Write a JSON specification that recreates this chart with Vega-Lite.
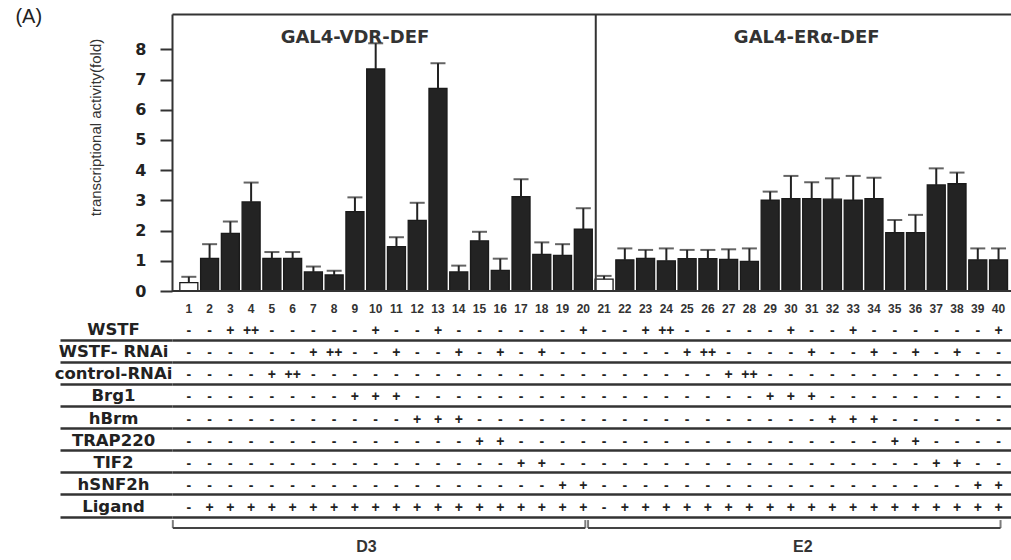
{
  "$schema": "https://vega.github.io/schema/vega-lite/v6.json",
  "autosize": {"type": "none"},
  "padding": {"left": 172, "top": 14, "right": 0, "bottom": 0},
  "width": 844,
  "height": 546,
  "background": "white",
  "config": {"view": {"stroke": null}},
  "data": {"values": [
    {"lane": 1, "value": 0.28, "err": 0.47, "WSTF": "-", "WSTF- RNAi": "-", "control-RNAi": "-", "Brg1": "-", "hBrm": "-", "TRAP220": "-", "TIF2": "-", "hSNF2h": "-", "Ligand": "-"},
    {"lane": 2, "value": 1.08, "err": 1.55, "WSTF": "-", "WSTF- RNAi": "-", "control-RNAi": "-", "Brg1": "-", "hBrm": "-", "TRAP220": "-", "TIF2": "-", "hSNF2h": "-", "Ligand": "+"},
    {"lane": 3, "value": 1.91, "err": 2.30, "WSTF": "+", "WSTF- RNAi": "-", "control-RNAi": "-", "Brg1": "-", "hBrm": "-", "TRAP220": "-", "TIF2": "-", "hSNF2h": "-", "Ligand": "+"},
    {"lane": 4, "value": 2.95, "err": 3.59, "WSTF": "++", "WSTF- RNAi": "-", "control-RNAi": "-", "Brg1": "-", "hBrm": "-", "TRAP220": "-", "TIF2": "-", "hSNF2h": "-", "Ligand": "+"},
    {"lane": 5, "value": 1.08, "err": 1.29, "WSTF": "-", "WSTF- RNAi": "-", "control-RNAi": "+", "Brg1": "-", "hBrm": "-", "TRAP220": "-", "TIF2": "-", "hSNF2h": "-", "Ligand": "+"},
    {"lane": 6, "value": 1.08, "err": 1.29, "WSTF": "-", "WSTF- RNAi": "-", "control-RNAi": "++", "Brg1": "-", "hBrm": "-", "TRAP220": "-", "TIF2": "-", "hSNF2h": "-", "Ligand": "+"},
    {"lane": 7, "value": 0.63, "err": 0.81, "WSTF": "-", "WSTF- RNAi": "+", "control-RNAi": "-", "Brg1": "-", "hBrm": "-", "TRAP220": "-", "TIF2": "-", "hSNF2h": "-", "Ligand": "+"},
    {"lane": 8, "value": 0.53, "err": 0.67, "WSTF": "-", "WSTF- RNAi": "++", "control-RNAi": "-", "Brg1": "-", "hBrm": "-", "TRAP220": "-", "TIF2": "-", "hSNF2h": "-", "Ligand": "+"},
    {"lane": 9, "value": 2.63, "err": 3.10, "WSTF": "-", "WSTF- RNAi": "-", "control-RNAi": "-", "Brg1": "+", "hBrm": "-", "TRAP220": "-", "TIF2": "-", "hSNF2h": "-", "Ligand": "+"},
    {"lane": 10, "value": 7.35, "err": 8.20, "WSTF": "+", "WSTF- RNAi": "-", "control-RNAi": "-", "Brg1": "+", "hBrm": "-", "TRAP220": "-", "TIF2": "-", "hSNF2h": "-", "Ligand": "+"},
    {"lane": 11, "value": 1.47, "err": 1.78, "WSTF": "-", "WSTF- RNAi": "+", "control-RNAi": "-", "Brg1": "+", "hBrm": "-", "TRAP220": "-", "TIF2": "-", "hSNF2h": "-", "Ligand": "+"},
    {"lane": 12, "value": 2.34, "err": 2.92, "WSTF": "-", "WSTF- RNAi": "-", "control-RNAi": "-", "Brg1": "-", "hBrm": "+", "TRAP220": "-", "TIF2": "-", "hSNF2h": "-", "Ligand": "+"},
    {"lane": 13, "value": 6.71, "err": 7.54, "WSTF": "+", "WSTF- RNAi": "-", "control-RNAi": "-", "Brg1": "-", "hBrm": "+", "TRAP220": "-", "TIF2": "-", "hSNF2h": "-", "Ligand": "+"},
    {"lane": 14, "value": 0.63, "err": 0.84, "WSTF": "-", "WSTF- RNAi": "+", "control-RNAi": "-", "Brg1": "-", "hBrm": "+", "TRAP220": "-", "TIF2": "-", "hSNF2h": "-", "Ligand": "+"},
    {"lane": 15, "value": 1.66, "err": 1.96, "WSTF": "-", "WSTF- RNAi": "-", "control-RNAi": "-", "Brg1": "-", "hBrm": "-", "TRAP220": "+", "TIF2": "-", "hSNF2h": "-", "Ligand": "+"},
    {"lane": 16, "value": 0.68, "err": 1.07, "WSTF": "-", "WSTF- RNAi": "+", "control-RNAi": "-", "Brg1": "-", "hBrm": "-", "TRAP220": "+", "TIF2": "-", "hSNF2h": "-", "Ligand": "+"},
    {"lane": 17, "value": 3.12, "err": 3.70, "WSTF": "-", "WSTF- RNAi": "-", "control-RNAi": "-", "Brg1": "-", "hBrm": "-", "TRAP220": "-", "TIF2": "+", "hSNF2h": "-", "Ligand": "+"},
    {"lane": 18, "value": 1.21, "err": 1.61, "WSTF": "-", "WSTF- RNAi": "+", "control-RNAi": "-", "Brg1": "-", "hBrm": "-", "TRAP220": "-", "TIF2": "+", "hSNF2h": "-", "Ligand": "+"},
    {"lane": 19, "value": 1.18, "err": 1.55, "WSTF": "-", "WSTF- RNAi": "-", "control-RNAi": "-", "Brg1": "-", "hBrm": "-", "TRAP220": "-", "TIF2": "-", "hSNF2h": "+", "Ligand": "+"},
    {"lane": 20, "value": 2.05, "err": 2.74, "WSTF": "+", "WSTF- RNAi": "-", "control-RNAi": "-", "Brg1": "-", "hBrm": "-", "TRAP220": "-", "TIF2": "-", "hSNF2h": "+", "Ligand": "+"},
    {"lane": 21, "value": 0.39, "err": 0.50, "WSTF": "-", "WSTF- RNAi": "-", "control-RNAi": "-", "Brg1": "-", "hBrm": "-", "TRAP220": "-", "TIF2": "-", "hSNF2h": "-", "Ligand": "-"},
    {"lane": 22, "value": 1.03, "err": 1.41, "WSTF": "-", "WSTF- RNAi": "-", "control-RNAi": "-", "Brg1": "-", "hBrm": "-", "TRAP220": "-", "TIF2": "-", "hSNF2h": "-", "Ligand": "+"},
    {"lane": 23, "value": 1.08, "err": 1.36, "WSTF": "+", "WSTF- RNAi": "-", "control-RNAi": "-", "Brg1": "-", "hBrm": "-", "TRAP220": "-", "TIF2": "-", "hSNF2h": "-", "Ligand": "+"},
    {"lane": 24, "value": 1.00, "err": 1.41, "WSTF": "++", "WSTF- RNAi": "-", "control-RNAi": "-", "Brg1": "-", "hBrm": "-", "TRAP220": "-", "TIF2": "-", "hSNF2h": "-", "Ligand": "+"},
    {"lane": 25, "value": 1.07, "err": 1.36, "WSTF": "-", "WSTF- RNAi": "+", "control-RNAi": "-", "Brg1": "-", "hBrm": "-", "TRAP220": "-", "TIF2": "-", "hSNF2h": "-", "Ligand": "+"},
    {"lane": 26, "value": 1.07, "err": 1.36, "WSTF": "-", "WSTF- RNAi": "++", "control-RNAi": "-", "Brg1": "-", "hBrm": "-", "TRAP220": "-", "TIF2": "-", "hSNF2h": "-", "Ligand": "+"},
    {"lane": 27, "value": 1.05, "err": 1.38, "WSTF": "-", "WSTF- RNAi": "-", "control-RNAi": "+", "Brg1": "-", "hBrm": "-", "TRAP220": "-", "TIF2": "-", "hSNF2h": "-", "Ligand": "+"},
    {"lane": 28, "value": 0.98, "err": 1.41, "WSTF": "-", "WSTF- RNAi": "-", "control-RNAi": "++", "Brg1": "-", "hBrm": "-", "TRAP220": "-", "TIF2": "-", "hSNF2h": "-", "Ligand": "+"},
    {"lane": 29, "value": 3.01, "err": 3.29, "WSTF": "-", "WSTF- RNAi": "-", "control-RNAi": "-", "Brg1": "+", "hBrm": "-", "TRAP220": "-", "TIF2": "-", "hSNF2h": "-", "Ligand": "+"},
    {"lane": 30, "value": 3.06, "err": 3.81, "WSTF": "+", "WSTF- RNAi": "-", "control-RNAi": "-", "Brg1": "+", "hBrm": "-", "TRAP220": "-", "TIF2": "-", "hSNF2h": "-", "Ligand": "+"},
    {"lane": 31, "value": 3.06, "err": 3.60, "WSTF": "-", "WSTF- RNAi": "+", "control-RNAi": "-", "Brg1": "+", "hBrm": "-", "TRAP220": "-", "TIF2": "-", "hSNF2h": "-", "Ligand": "+"},
    {"lane": 32, "value": 3.04, "err": 3.73, "WSTF": "-", "WSTF- RNAi": "-", "control-RNAi": "-", "Brg1": "-", "hBrm": "+", "TRAP220": "-", "TIF2": "-", "hSNF2h": "-", "Ligand": "+"},
    {"lane": 33, "value": 3.01, "err": 3.81, "WSTF": "+", "WSTF- RNAi": "-", "control-RNAi": "-", "Brg1": "-", "hBrm": "+", "TRAP220": "-", "TIF2": "-", "hSNF2h": "-", "Ligand": "+"},
    {"lane": 34, "value": 3.06, "err": 3.75, "WSTF": "-", "WSTF- RNAi": "+", "control-RNAi": "-", "Brg1": "-", "hBrm": "+", "TRAP220": "-", "TIF2": "-", "hSNF2h": "-", "Ligand": "+"},
    {"lane": 35, "value": 1.93, "err": 2.35, "WSTF": "-", "WSTF- RNAi": "-", "control-RNAi": "-", "Brg1": "-", "hBrm": "-", "TRAP220": "+", "TIF2": "-", "hSNF2h": "-", "Ligand": "+"},
    {"lane": 36, "value": 1.93, "err": 2.52, "WSTF": "-", "WSTF- RNAi": "+", "control-RNAi": "-", "Brg1": "-", "hBrm": "-", "TRAP220": "+", "TIF2": "-", "hSNF2h": "-", "Ligand": "+"},
    {"lane": 37, "value": 3.51, "err": 4.06, "WSTF": "-", "WSTF- RNAi": "-", "control-RNAi": "-", "Brg1": "-", "hBrm": "-", "TRAP220": "-", "TIF2": "+", "hSNF2h": "-", "Ligand": "+"},
    {"lane": 38, "value": 3.55, "err": 3.92, "WSTF": "-", "WSTF- RNAi": "+", "control-RNAi": "-", "Brg1": "-", "hBrm": "-", "TRAP220": "-", "TIF2": "+", "hSNF2h": "-", "Ligand": "+"},
    {"lane": 39, "value": 1.03, "err": 1.41, "WSTF": "-", "WSTF- RNAi": "-", "control-RNAi": "-", "Brg1": "-", "hBrm": "-", "TRAP220": "-", "TIF2": "-", "hSNF2h": "+", "Ligand": "+"},
    {"lane": 40, "value": 1.03, "err": 1.41, "WSTF": "+", "WSTF- RNAi": "-", "control-RNAi": "-", "Brg1": "-", "hBrm": "-", "TRAP220": "-", "TIF2": "-", "hSNF2h": "+", "Ligand": "+"}
  ]},
  "layer": [
    {
      "layer": [
        {
          "mark": {"type": "bar", "width": 18, "stroke": "#1a1a1a", "strokeWidth": 1.3},
          "encoding": {
            "x": {"field": "lane", "type": "quantitative", "scale": {"domain": [0.43, 40.6], "nice": false, "zero": false},
                  "axis": {"orient": "top", "labels": false, "ticks": false, "domain": true, "domainColor": "#333", "domainWidth": 2, "grid": false, "title": null}},
            "y": {"field": "value", "type": "quantitative", "scale": {"domain": [0, 9.17], "range": [277, 0], "nice": false, "zero": false},
                  "axis": {"orient": "left", "values": [0, 1, 2, 3, 4, 5, 6, 7, 8], "format": "d", "grid": false, "domain": true, "domainColor": "#333", "domainWidth": 2,
                           "ticks": true, "tickSize": 12, "tickWidth": 2, "tickColor": "#333",
                           "labelFont": "DejaVu Sans", "labelFontWeight": "bold", "labelFontSize": 16, "labelColor": "#222", "labelPadding": 14,
                           "title": "transcriptional activity(fold)", "titleFont": "Liberation Sans", "titleFontSize": 15, "titleFontWeight": "normal", "titleColor": "#333",
                           "titleX": -77, "titleY": 113, "titleAngle": -90, "titleAlign": "center", "titleBaseline": "middle"}},
            "fill": {"field": "Ligand", "type": "nominal", "scale": {"domain": ["-", "+"], "range": ["#ffffff", "#232323"]}, "legend": null}
          }
        },
        {
          "mark": {"type": "rule", "color": "#222", "strokeWidth": 2},
          "encoding": {
            "x": {"field": "lane", "type": "quantitative", "scale": {"domain": [0.43, 40.6], "nice": false, "zero": false}},
            "y": {"field": "value", "type": "quantitative", "scale": {"domain": [0, 9.17], "range": [277, 0], "nice": false, "zero": false}},
            "y2": {"field": "err"}
          }
        },
        {
          "mark": {"type": "tick", "orient": "horizontal", "size": 15, "thickness": 2, "color": "#222"},
          "encoding": {
            "x": {"field": "lane", "type": "quantitative", "scale": {"domain": [0.43, 40.6], "nice": false, "zero": false}},
            "y": {"field": "err", "type": "quantitative", "scale": {"domain": [0, 9.17], "range": [277, 0], "nice": false, "zero": false}}
          }
        },
        {
          "data": {"values": [{}]},
          "mark": {"type": "rule", "color": "#333", "strokeWidth": 2},
          "encoding": {
            "y": {"datum": 0, "type": "quantitative", "scale": {"domain": [0, 9.17], "range": [277, 0], "nice": false, "zero": false}}
          }
        },
        {
          "data": {"values": [{}]},
          "mark": {"type": "rule", "color": "#333", "strokeWidth": 2},
          "encoding": {
            "x": {"datum": 20.6, "type": "quantitative", "scale": {"domain": [0.43, 40.6], "nice": false, "zero": false}},
            "y": {"datum": 0, "type": "quantitative", "scale": {"domain": [0, 9.17], "range": [277, 0], "nice": false, "zero": false}},
            "y2": {"datum": 9.17}
          }
        },
        {
          "data": {"values": [{}]},
          "mark": {"type": "text", "text": "GAL4-VDR-DEF", "font": "DejaVu Sans", "fontWeight": "bold", "fontSize": 18, "color": "#333", "baseline": "middle", "align": "center"},
          "encoding": {
            "x": {"datum": 9.0, "type": "quantitative", "scale": {"domain": [0.43, 40.6], "nice": false, "zero": false}},
            "y": {"datum": 8.38, "type": "quantitative", "scale": {"domain": [0, 9.17], "range": [277, 0], "nice": false, "zero": false}}
          }
        },
        {
          "data": {"values": [{}]},
          "mark": {"type": "text", "text": "GAL4-ERα-DEF", "font": "DejaVu Sans", "fontWeight": "bold", "fontSize": 18, "color": "#333", "baseline": "middle", "align": "center"},
          "encoding": {
            "x": {"datum": 30.76, "type": "quantitative", "scale": {"domain": [0.43, 40.6], "nice": false, "zero": false}},
            "y": {"datum": 8.38, "type": "quantitative", "scale": {"domain": [0, 9.17], "range": [277, 0], "nice": false, "zero": false}}
          }
        },
        {
          "data": {"values": [{}]},
          "mark": {"type": "text", "text": "(A)", "font": "Liberation Sans", "fontSize": 20, "color": "#222", "baseline": "middle", "align": "center"},
          "encoding": {
            "x": {"datum": -6.71, "type": "quantitative", "scale": {"domain": [0.43, 40.6], "nice": false, "zero": false}},
            "y": {"datum": 9.07, "type": "quantitative", "scale": {"domain": [0, 9.17], "range": [277, 0], "nice": false, "zero": false}}
          }
        }
      ]
    },
    {
      "layer": [
        {
          "transform": [{"fold": ["WSTF", "WSTF- RNAi", "control-RNAi", "Brg1", "hBrm", "TRAP220", "TIF2", "hSNF2h", "Ligand"], "as": ["factor", "sign"]}],
          "mark": {"type": "text", "font": "Liberation Sans", "fontWeight": "bold", "fontSize": 14, "color": "#222", "baseline": "middle", "dy": 2},
          "encoding": {
            "x": {"field": "lane", "type": "quantitative", "scale": {"domain": [0.43, 40.6], "nice": false, "zero": false}},
            "y": {"field": "factor", "type": "nominal",
                  "scale": {"type": "band", "domain": ["#", "WSTF", "WSTF- RNAi", "control-RNAi", "Brg1", "hBrm", "TRAP220", "TIF2", "hSNF2h", "Ligand", "bracket", "ligand"], "range": [282, 547.2], "paddingInner": 0, "paddingOuter": 0},
                  "axis": {"orient": "left", "values": ["WSTF", "WSTF- RNAi", "control-RNAi", "Brg1", "hBrm", "TRAP220", "TIF2", "hSNF2h", "Ligand"],
                           "bandPosition": 1, "domain": false, "grid": true, "gridColor": "#333", "gridWidth": 2.5,
                           "ticks": true, "tickSize": 112, "tickWidth": 2.5, "tickColor": "#333",
                           "labelAlign": "center", "labelBaseline": "middle", "labelPadding": -53, "labelOffset": 1,
                           "labelFont": "DejaVu Sans", "labelFontWeight": "bold", "labelFontSize": 16.5, "labelColor": "#222", "title": null}},
            "text": {"field": "sign", "type": "nominal"}
          }
        },
        {
          "mark": {"type": "text", "font": "Liberation Sans", "fontWeight": "bold", "fontSize": 12, "color": "#333", "baseline": "middle", "dy": 2},
          "encoding": {
            "x": {"field": "lane", "type": "quantitative", "scale": {"domain": [0.43, 40.6], "nice": false, "zero": false}},
            "y": {"datum": "#", "type": "nominal",
                  "scale": {"type": "band", "domain": ["#", "WSTF", "WSTF- RNAi", "control-RNAi", "Brg1", "hBrm", "TRAP220", "TIF2", "hSNF2h", "Ligand", "bracket", "ligand"], "range": [282, 547.2], "paddingInner": 0, "paddingOuter": 0}},
            "text": {"field": "lane", "type": "nominal"}
          }
        },
        {
          "data": {"values": [{"ligand": "D3", "first": 1, "last": 20}, {"ligand": "E2", "first": 21, "last": 40}]},
          "layer": [
            {
              "mark": {"type": "rule", "color": "#444", "strokeWidth": 2, "xOffset": -16, "x2Offset": 2},
              "encoding": {
                "x": {"field": "first", "type": "quantitative", "scale": {"domain": [0.43, 40.6], "nice": false, "zero": false}},
                "x2": {"field": "last"},
                "y": {"datum": "bracket", "type": "nominal",
                      "scale": {"type": "band", "domain": ["#", "WSTF", "WSTF- RNAi", "control-RNAi", "Brg1", "hBrm", "TRAP220", "TIF2", "hSNF2h", "Ligand", "bracket", "ligand"], "range": [282, 547.2], "paddingInner": 0, "paddingOuter": 0}}
              }
            },
            {
              "mark": {"type": "tick", "orient": "vertical", "size": 8, "thickness": 2, "color": "#444", "xOffset": -16, "yOffset": -4},
              "encoding": {
                "x": {"field": "first", "type": "quantitative", "scale": {"domain": [0.43, 40.6], "nice": false, "zero": false}},
                "y": {"datum": "bracket", "type": "nominal",
                      "scale": {"type": "band", "domain": ["#", "WSTF", "WSTF- RNAi", "control-RNAi", "Brg1", "hBrm", "TRAP220", "TIF2", "hSNF2h", "Ligand", "bracket", "ligand"], "range": [282, 547.2], "paddingInner": 0, "paddingOuter": 0}}
              }
            },
            {
              "mark": {"type": "tick", "orient": "vertical", "size": 8, "thickness": 2, "color": "#444", "xOffset": 2, "yOffset": -4},
              "encoding": {
                "x": {"field": "last", "type": "quantitative", "scale": {"domain": [0.43, 40.6], "nice": false, "zero": false}},
                "y": {"datum": "bracket", "type": "nominal",
                      "scale": {"type": "band", "domain": ["#", "WSTF", "WSTF- RNAi", "control-RNAi", "Brg1", "hBrm", "TRAP220", "TIF2", "hSNF2h", "Ligand", "bracket", "ligand"], "range": [282, 547.2], "paddingInner": 0, "paddingOuter": 0}}
              }
            }
          ]
        },
        {
          "data": {"values": [{}]},
          "mark": {"type": "text", "text": "D3", "font": "Liberation Sans", "fontWeight": "bold", "fontSize": 16, "color": "#333", "baseline": "middle", "align": "center", "dy": -3},
          "encoding": {
            "x": {"datum": 9.55, "type": "quantitative", "scale": {"domain": [0.43, 40.6], "nice": false, "zero": false}},
            "y": {"datum": "ligand", "type": "nominal",
                  "scale": {"type": "band", "domain": ["#", "WSTF", "WSTF- RNAi", "control-RNAi", "Brg1", "hBrm", "TRAP220", "TIF2", "hSNF2h", "Ligand", "bracket", "ligand"], "range": [282, 547.2], "paddingInner": 0, "paddingOuter": 0}}
          }
        },
        {
          "data": {"values": [{}]},
          "mark": {"type": "text", "text": "E2", "font": "Liberation Sans", "fontWeight": "bold", "fontSize": 16, "color": "#333", "baseline": "middle", "align": "center", "dy": -3},
          "encoding": {
            "x": {"datum": 30.57, "type": "quantitative", "scale": {"domain": [0.43, 40.6], "nice": false, "zero": false}},
            "y": {"datum": "ligand", "type": "nominal",
                  "scale": {"type": "band", "domain": ["#", "WSTF", "WSTF- RNAi", "control-RNAi", "Brg1", "hBrm", "TRAP220", "TIF2", "hSNF2h", "Ligand", "bracket", "ligand"], "range": [282, 547.2], "paddingInner": 0, "paddingOuter": 0}}
          }
        }
      ]
    }
  ],
  "resolve": {"scale": {"y": "independent"}, "axis": {"y": "independent"}}
}
